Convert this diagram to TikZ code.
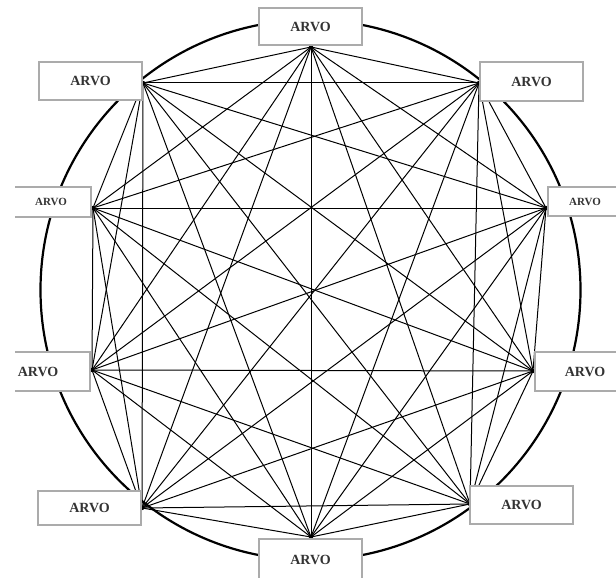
\documentclass[tikz,border=0pt]{standalone}
\usepackage{fontspec}
\setmainfont{Liberation Serif}
\usepackage{tikz}
\usetikzlibrary{positioning}
\definecolor{boxgray}{HTML}{ABABAB}
\definecolor{textgray}{HTML}{333333}

\begin{document}
\begin{tikzpicture}[x=1pt,y=-1pt,
  arvo/.style={draw=boxgray,line width=1.1pt,fill=white,text=textgray,inner sep=0pt,
    font=\bfseries\fontsize{14}{16}\selectfont},
  arvosmall/.style={arvo,font=\bfseries\fontsize{11}{13}\selectfont}]
  \useasboundingbox (0,0) rectangle (616,578);
  \clip (15,0) rectangle (616,578);
  \draw[line width=2.2pt] (310.5,290) circle (270pt);
  \foreach \n/\x/\y in {1/311/47,2/143/83,3/93/208,4/92/370,5/142/508,
                        6/311/537,7/470/504,8/533/371,9/546/208,10/479/83}
    \coordinate (v\n) at (\x,\y);
  \foreach \i in {1,...,9}{
    \pgfmathtruncatemacro{\j}{\i+1}
    \foreach \k in {\j,...,10}{\draw[line width=1pt] (v\i) -- (v\k);}
  }
  \foreach \n in {1,...,10}{\fill (v\n) circle (2.2pt);}
  \node[arvo,minimum width=103pt,minimum height=37pt] (ltop) at (310.5,26.5) {ARVO};
  \node[arvo,minimum width=103pt,minimum height=38pt] (lupleft) at (90.5,81) {ARVO};
  \node[arvosmall,minimum width=80pt,minimum height=30pt] (lleftup) at (51,202) {ARVO};
  \node[arvo,minimum width=104pt,minimum height=39pt] (lleftlow) at (38,371.5) {ARVO};
  \node[arvo,minimum width=103pt,minimum height=34pt] (llowleft) at (89.5,508) {ARVO};
  \node[arvo,minimum width=103pt,minimum height=42pt] (lbottom) at (310.5,560) {ARVO};
  \node[arvo,minimum width=103pt,minimum height=38pt] (llowright) at (521.5,505) {ARVO};
  \node[arvo,minimum width=100pt,minimum height=39pt] (lrightlow) at (585,371.5) {ARVO};
  \node[arvosmall,minimum width=74pt,minimum height=29pt] (lrightup) at (585,201.5) {ARVO};
  \node[arvo,minimum width=103pt,minimum height=39pt] (lupright) at (531.5,81.5) {ARVO};
\end{tikzpicture}
\end{document}
